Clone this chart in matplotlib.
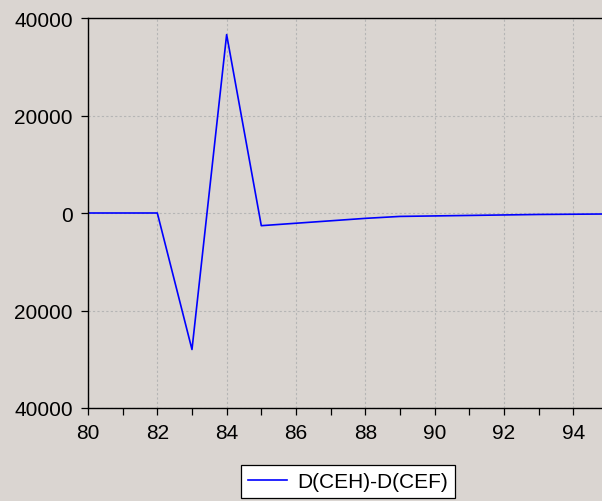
import matplotlib
matplotlib.use("Agg")
import matplotlib.pyplot as plt
from matplotlib.ticker import FixedLocator, FixedFormatter, MultipleLocator

years = [80, 81, 82, 83, 84, 85, 86, 87, 88, 89, 90, 91, 92, 93, 94, 95]
values = [0, 0, 0, -28000, 36600, -2600, -2100, -1600, -1100, -700, -600, -500, -400, -300, -250, -200]
series_name = "D(CEH)-D(CEF)"
y_ticks = [-40000, -20000, 0, 20000, 40000]
y_tick_labels = ["40000", "20000", "0", "20000", "40000"]
x_ticks = [80, 82, 84, 86, 88, 90, 92, 94]

plt.rcParams['font.family'] = ['Liberation Sans', 'DejaVu Sans']
bg = "#dad5d1"
fig = plt.figure(figsize=(6.02, 5.02), dpi=100, facecolor=bg)
ax = fig.add_axes([88/602, 1 - 409/502, 1 - 88/602, (409 - 19)/502])
ax.set_facecolor(bg)

line, = ax.plot(years, values, color="#0000ff", lw=1.2, label=series_name)

ax.set_xlim(80, 94.83)
ax.set_ylim(-40000, 40000)
ax.xaxis.set_major_locator(FixedLocator(x_ticks))
ax.xaxis.set_minor_locator(MultipleLocator(1))
ax.yaxis.set_major_locator(FixedLocator(y_ticks))
ax.yaxis.set_major_formatter(FixedFormatter(y_tick_labels))

ax.grid(True, which="major", color="#b5b5b5", linestyle=(0, (2, 2)), lw=0.8)
ax.tick_params(axis="both", which="both", direction="out", length=5, width=0.9, labelsize=15)
ax.tick_params(axis="y", which="major", pad=6)
ax.tick_params(axis="x", which="major", pad=5.5)
for s in ["left", "bottom", "top"]:
    ax.spines[s].set_linewidth(1.0)
    ax.spines[s].set_color("black")
ax.spines["right"].set_visible(False)

leg = fig.legend(handles=[line], loc="center", bbox_to_anchor=(348/602, 1 - 482.5/502),
                 fontsize=15, frameon=True, fancybox=False, edgecolor="black",
                 framealpha=1, facecolor="white", handlelength=1.85, borderpad=0.35,
                 handletextpad=0.5, borderaxespad=0)
leg.get_frame().set_linewidth(0.9)

fig.savefig("out.png", dpi=100, facecolor=bg)
